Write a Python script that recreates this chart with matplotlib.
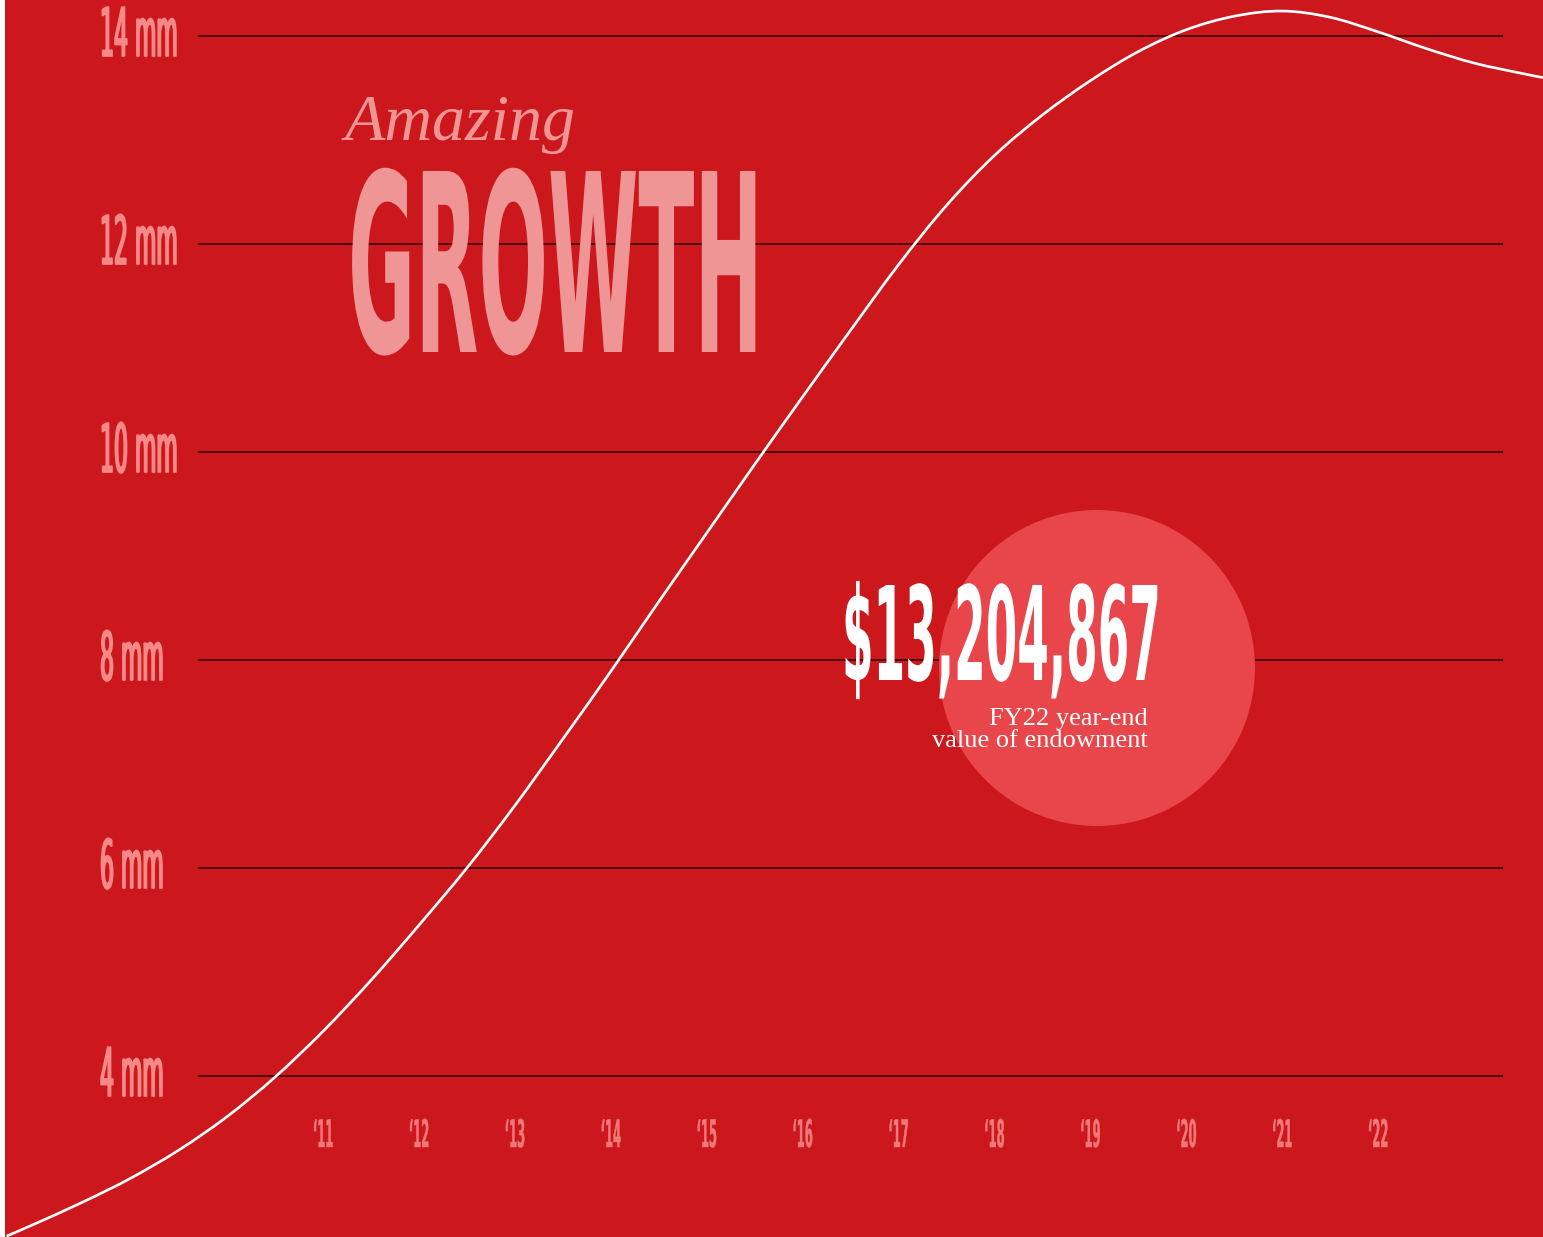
import matplotlib
matplotlib.use("Agg")
import matplotlib.pyplot as plt
import numpy as np
from matplotlib import patheffects
from matplotlib.patches import Ellipse, Rectangle, PathPatch
from matplotlib.path import Path
from matplotlib.transforms import Affine2D, ScaledTranslation

# endowment value (mm = millions), every half year
years = [2007.7, 2008.0, 2008.5, 2009.0, 2009.5, 2010.0, 2010.5, 2011.0,
         2011.5, 2012.0, 2012.5, 2013.0, 2013.5, 2014.0, 2014.5, 2015.0,
         2015.5, 2016.0, 2016.5, 2017.0, 2017.5, 2018.0, 2018.5, 2019.0,
         2019.5, 2020.0, 2020.5, 2021.0, 2021.5, 2022.0, 2022.5, 2023.0,
         2023.5, 2023.72]
values = [2.46, 2.58, 2.79, 3.02, 3.29, 3.61, 3.99, 4.43,
          4.92, 5.45, 6.00, 6.60, 7.24, 7.89, 8.56, 9.22,
          9.88, 10.53, 11.17, 11.80, 12.37, 12.85, 13.24, 13.57,
          13.85, 14.06, 14.19, 14.24, 14.18, 14.04, 13.88, 13.74,
          13.64, 13.60]

tick_years = list(range(2011, 2023))
tick_labels = ["\u2018" + str(y)[2:] for y in tick_years]
grid_values = [4, 6, 8, 10, 12, 14]
grid_labels = [f"{v} mm" for v in grid_values]

RED = "#CC181C"
PINK = "#F68888"
PALE = "#F09595"
CIRCLE = "#E8464B"

W, H = 1543, 1237


class Tall(patheffects.AbstractPathEffect):
    """Stretch glyphs vertically from the baseline (fake condensed face)."""

    def __init__(self, sy, grow=0.0):
        super().__init__()
        self.sy = sy
        self.grow = grow

    def draw_path(self, renderer, gc, tpath, affine, rgbFace=None):
        gc0 = renderer.new_gc()
        gc0.copy_properties(gc)
        if self.grow:
            gc0.set_linewidth(self.grow)
            gc0.set_foreground(rgbFace)
        renderer.draw_path(gc0, tpath, Affine2D().scale(1, self.sy) + affine,
                           rgbFace)
        gc0.restore()


def smooth(xs, ys):
    # Catmull-Rom through the points, as cubic bezier pieces
    p = np.column_stack([xs, ys])
    n = len(p)
    verts, codes = [p[0]], [Path.MOVETO]
    for i in range(n - 1):
        a, b = p[max(i - 1, 0)], p[i]
        c, d = p[i + 1], p[min(i + 2, n - 1)]
        verts += [b + (c - a) / 6, c - (d - b) / 6, c]
        codes += [Path.CURVE4] * 3
    return Path(verts, codes)


def fx(px):
    return px / W


def fy(py):
    return 1 - py / H


fig = plt.figure(figsize=(W / 100, H / 100), dpi=100)
fig.patch.set_facecolor(RED)
fig.add_artist(Rectangle((0, 0), 5 / W, 1, transform=fig.transFigure,
                         facecolor="white", edgecolor="none"))

ax = fig.add_axes([5 / W, 0, (W - 5) / W, 1])
ax.set_xlim(2007.684, 2023.72)
ax.set_ylim(2.452, 14.346)
ax.axis("off")

# grid lines
ax.hlines(grid_values, 0.1255, 0.974, transform=ax.get_yaxis_transform(),
          color="#2a0404", lw=1.1, zorder=1)

# highlight circle
ax.add_artist(Ellipse((fx(1097), fy(668)), 316 / W, 316 / H,
                      transform=fig.transFigure, facecolor=CIRCLE,
                      edgecolor="none", zorder=2))

# the curve
ax.add_patch(PathPatch(smooth(years, values), facecolor="none",
                       edgecolor="white", lw=1.9, zorder=3))

# y labels
down = ScaledTranslation(0, -0.20, fig.dpi_scale_trans)
for v, lab in zip(grid_values, grid_labels):
    ax.text(0.0618, v, lab, transform=ax.get_yaxis_transform() + down,
            ha="left", va="baseline", family="DejaVu Sans", weight="normal",
            size=15.8, color=PINK, zorder=4,
            path_effects=[Tall(3.05, grow=1.3)])

# x labels
for yr, lab in zip(tick_years, tick_labels):
    ax.text(yr, fy(1147), lab, transform=ax.get_xaxis_transform(),
            ha="center", va="baseline", family="DejaVu Sans", weight="bold",
            size=8.3, color="#F07A7A", zorder=4,
            path_effects=[Tall(3.3, grow=0.3)])

# title
fig.text(fx(345), fy(140), "Amazing", family="Liberation Serif",
         style="italic", size=47.5, color=PALE, ha="left", va="baseline")
fig.text(fx(348), fy(352), "GROWTH", family="DejaVu Sans", weight="bold",
         size=59, color=PALE, ha="left", va="baseline",
         path_effects=[Tall(3.03)])

# callout
fig.text(fx(842), fy(680), "$13,204,867", family="DejaVu Sans",
         weight="bold", size=32.7, color="white", ha="left", va="baseline",
         zorder=5, path_effects=[Tall(2.87)])
fig.text(fx(1148), fy(725), "FY22 year-end", family="Liberation Serif",
         size=19, color="white", ha="right", va="baseline", zorder=5)
fig.text(fx(1148), fy(747), "value of endowment", family="Liberation Serif",
         size=19, color="white", ha="right", va="baseline", zorder=5)

fig.savefig("out.png", dpi=100, facecolor=fig.get_facecolor())
